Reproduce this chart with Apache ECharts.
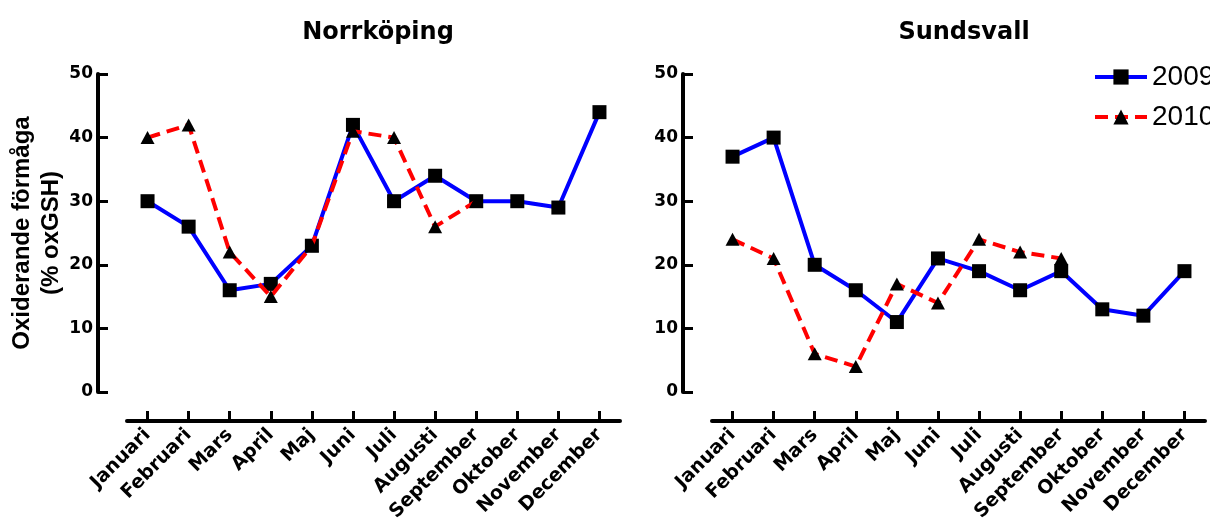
<!DOCTYPE html>
<html>
<head>
<meta charset="utf-8">
<script src="https://cdn.jsdelivr.net/npm/echarts@6/dist/echarts.min.js"></script>
<style>
html,body{margin:0;padding:0;background:#fff;}
#chart{width:1210px;height:520px;}
</style>
</head>
<body>
<div id="chart"></div>
<script>
const months = ['Januari','Februari','Mars','April','Maj','Juni','Juli','Augusti','September','Oktober','November','December'];
const panelTitles = ['Norrköping','Sundsvall'];
const seriesNames = ['2009','2010'];
const norr2009 = [30, 26, 16, 17, 23, 42, 30, 34, 30, 30, 29, 44];
const norr2010 = [40, 42, 22, 15, 23, 41, 40, 26, 30, null, null, null];
const sund2009 = [37, 40, 20, 16, 11, 21, 19, 16, 19, 13, 12, 19];
const sund2010 = [24, 21, 6, 4, 17, 14, 24, 22, 21, null, null, null];
const yTicks = {min: 0, max: 50, interval: 10};
const yName = 'Oxiderande förmåga\n(% oxGSH)';

const boldFont = 'DejaVu Sans';
const chart = echarts.init(document.getElementById('chart'));

function xAx(gi){
  return {
    type:'category', gridIndex: gi, data: months, boundaryGap: true, position:'bottom', offset: 29,
    axisLine:{show:true, onZero:false, lineStyle:{color:'#000', width:4}},
    axisTick:{show:true, inside:true, alignWithLabel:true, interval:0, length:10, lineStyle:{color:'#000', width:3}},
    axisLabel:{rotate:45, margin:11, color:'#000', fontWeight:'bold', fontFamily:boldFont, fontSize:19, interval:0}
  };
}
function yAx(gi, withName){
  const a = {
    type:'value', gridIndex: gi, min: yTicks.min, max: yTicks.max, interval: yTicks.interval, offset: 29,
    axisLine:{show:true, onZero:false, lineStyle:{color:'#000', width:4}},
    axisTick:{show:true, inside:true, length:10, lineStyle:{color:'#000', width:3}},
    axisLabel:{margin:5, color:'#000', fontWeight:'bold', fontFamily:boldFont, fontSize:17},
    splitLine:{show:false}
  };
  if (withName){
    a.name = yName; a.nameLocation='middle'; a.nameRotate=90; a.nameGap=32;
    a.nameTextStyle = {color:'#000', fontWeight:'bold', fontFamily:'Liberation Sans', fontSize:24, lineHeight:29, align:'center'};
  }
  return a;
}
function s2009(data, gi){
  return {name: seriesNames[0], type:'line', xAxisIndex:gi, yAxisIndex:gi, data: data,
    symbol:'rect', symbolSize:14, itemStyle:{color:'#000'},
    lineStyle:{color:'#0000ff', width:4}, color:'#0000ff', z:2};
}
function s2010(data, gi){
  return {name: seriesNames[1], type:'line', xAxisIndex:gi, yAxisIndex:gi, data: data,
    symbol:'triangle', symbolSize:[14,13], itemStyle:{color:'#000'},
    lineStyle:{color:'#ff0000', width:4, type:[13,7], cap:'butt'}, color:'#ff0000', z:3};
}

chart.setOption({
  animation:false,
  backgroundColor:'#fff',
  title:[
    {text: panelTitles[0], left: 373, top: 16, textAlign:'center', textStyle:{color:'#000', fontWeight:'bold', fontFamily:boldFont, fontSize:24}},
    {text: panelTitles[1], left: 959, top: 16, textAlign:'center', textStyle:{color:'#000', fontWeight:'bold', fontFamily:boldFont, fontSize:24}}
  ],
  legend:{
    data: [
      {name: seriesNames[0], lineStyle:{width:4, color:'#0000ff'}},
      {name: seriesNames[1], lineStyle:{width:4, color:'#ff0000', type:[13,7]}}
    ],
    orient:'vertical', left:1088, top:58, itemWidth:52, itemHeight:19, itemGap:12,
    textStyle:{color:'#000', fontFamily:'Liberation Sans', fontSize:28},
    inactiveColor:'#ccc'
  },
  grid:[
    {left:127, top:74, width:493, height:318, containLabel:false, outerBoundsMode:'none'},
    {left:712, top:74, width:493, height:318, containLabel:false, outerBoundsMode:'none'}
  ],
  xAxis:[xAx(0), xAx(1)],
  yAxis:[yAx(0,true), yAx(1,false)],
  series:[s2009(norr2009,0), s2010(norr2010,0), s2009(sund2009,1), s2010(sund2010,1)]
});
</script>
</body>
</html>
